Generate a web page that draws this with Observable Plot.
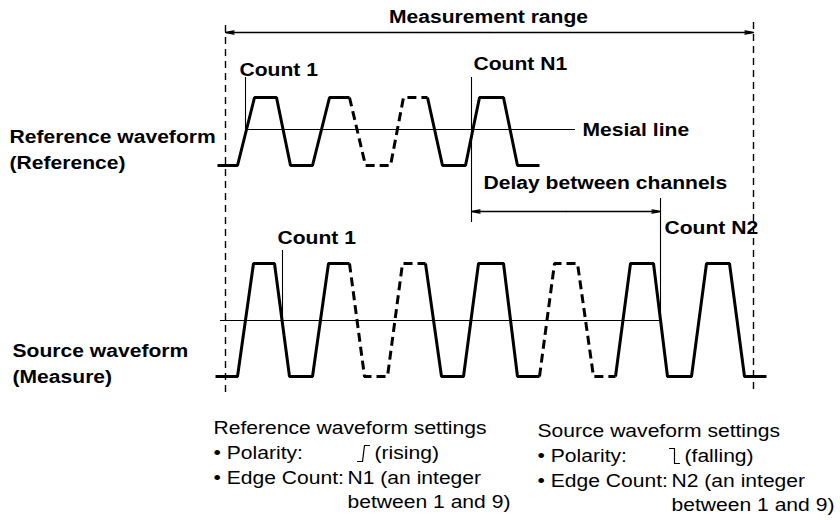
<!DOCTYPE html>
<html><head><meta charset="utf-8">
<script src="https://cdn.jsdelivr.net/npm/d3@7"></script>
<script src="https://cdn.jsdelivr.net/npm/@observablehq/plot@0.6"></script>
<style>html,body{margin:0;padding:0;background:#fff}</style>
</head><body><div id="chart"></div>
<script>
// ---- Diagram values ----
// Reference waveform: edge vertices (time position) and logic level (0 = low, 1 = high)
const refSegments = [
  {style: "solid",  x: [217, 237, 254, 276, 290, 312, 329, 349], level: [0, 0, 1, 1, 0, 0, 1, 1]},
  {style: "dashed", x: [349, 365, 390, 403, 427],                 level: [1, 0, 0, 1, 1]},
  {style: "solid",  x: [427, 442, 465, 479, 503, 517, 539],       level: [1, 0, 0, 1, 1, 0, 0]}
];
// Source waveform
const srcSegments = [
  {style: "solid",  x: [215, 237, 253, 274, 289, 312, 328, 349], level: [0, 0, 1, 1, 0, 0, 1, 1]},
  {style: "dashed", x: [349, 364, 387, 402, 425],                 level: [1, 0, 0, 1, 1]},
  {style: "solid",  x: [425, 441, 463, 478, 503, 517, 539],       level: [1, 0, 0, 1, 1, 0, 0]},
  {style: "dashed", x: [539, 554, 577, 593, 615],                 level: [0, 1, 1, 0, 0]},
  {style: "solid",  x: [615, 630, 653, 667, 691, 706, 729, 744, 766], level: [0, 1, 1, 0, 0, 1, 1, 0, 0]}
];
// Vertical levels of each waveform (low, high)
const refLevels = [165, 97];
const srcLevels = [376, 263];

// Measurement range bounds
const rangeBounds = [{x: 225, top: 25, bottom: 393}, {x: 753, top: 22, bottom: 393}];
const rangeArrowY = 32;

// Mesial lines
const mesialLines = [{y: 129, from: 245, to: 575}, {y: 320, from: 220, to: 660}];

// Edge-count markers
const countMarkers = [
  {label: "Count 1",  x: 245, top: 77,  bottom: 129, lx: 239, ly: 70},
  {label: "Count N1", x: 471, top: 77,  bottom: 222, lx: 473, ly: 64},
  {label: "Count 1",  x: 282, top: 250, bottom: 320, lx: 277, ly: 238},
  {label: "Count N2", x: 660, top: 198, bottom: 320, lx: 664, ly: 228}
];
const delayArrow = {from: 471, to: 660, y: 211};

// Bold labels
const boldLabels = [
  {text: "Mesial line", x: 582, y: 130},
  {text: "Delay between channels", x: 483, y: 183},
  {text: "Reference waveform", x: 9, y: 137},
  {text: "(Reference)", x: 9, y: 163},
  {text: "Source waveform", x: 12, y: 351},
  {text: "(Measure)", x: 12, y: 377}
];
// Settings notes
const notes = [
  {text: "Reference waveform settings", x: 213, y: 428},
  {text: "\u2022 Polarity:", x: 213, y: 453},
  {text: "(rising)", x: 374, y: 453},
  {text: "\u2022 Edge Count:", x: 213, y: 478},
  {text: "N1 (an integer", x: 347, y: 478},
  {text: "between 1 and 9)", x: 347, y: 502},
  {text: "Source waveform settings", x: 537, y: 431},
  {text: "\u2022 Polarity:", x: 537, y: 456},
  {text: "(falling)", x: 684, y: 456},
  {text: "\u2022 Edge Count:", x: 537, y: 481},
  {text: "N2 (an integer", x: 671, y: 481},
  {text: "between 1 and 9)", x: 671, y: 505}
];
// Polarity glyphs
const risingGlyph = {x: [357, 362, 364, 369], y: [461, 461, 445, 445]};
const fallingGlyph = {x: [669, 674, 674, 679], y: [448, 448, 463, 463]};

// ---- Build tables ----
function waveRows(name, segs, levels) {
  const [low, high] = levels;
  return segs.flatMap((s, i) => s.x.map((x, j) => ({
    id: name + i, style: s.style, x, y: low - s.level[j] * (low - high)
  })));
}
const waveRowsAll = [...waveRows("ref", refSegments, refLevels), ...waveRows("src", srcSegments, srcLevels)];
const glyphRows = [
  ...risingGlyph.x.map((x, i) => ({id: "r", x, y: risingGlyph.y[i]})),
  ...fallingGlyph.x.map((x, i) => ({id: "f", x, y: fallingGlyph.y[i]}))
];
const rangeMid = (rangeBounds[0].x + rangeBounds[1].x) / 2;
const rangeArrows = [
  {x1: rangeMid, x2: rangeBounds[0].x, y: rangeArrowY},
  {x1: rangeMid, x2: rangeBounds[1].x, y: rangeArrowY}
];
const delayMid = (delayArrow.from + delayArrow.to) / 2;
const delayArrows = [
  {x1: delayMid, x2: delayArrow.from, y: delayArrow.y},
  {x1: delayMid, x2: delayArrow.to, y: delayArrow.y}
];

const font = "'Liberation Sans', Arial, Helvetica, sans-serif";
const fs = 18.5;

const chart = Plot.plot({
  width: 840,
  height: 520,
  margin: 0,
  x: {domain: [0, 840], range: [0, 840], axis: null},
  y: {domain: [0, 520], range: [0, 520], axis: null},
  style: {background: "#fff", fontFamily: font, color: "#000"},
  marks: [
    Plot.ruleX(rangeBounds, {x: "x", y1: "top", y2: "bottom", stroke: "#000", strokeWidth: 1.4, strokeDasharray: "7,5"}),
    Plot.ruleY(mesialLines, {y: "y", x1: "from", x2: "to", stroke: "#000", strokeWidth: 1.1}),
    Plot.ruleX(countMarkers, {x: "x", y1: "top", y2: "bottom", stroke: "#000", strokeWidth: 1.1}),
    Plot.line(waveRowsAll.filter(d => d.style === "solid"), {x: "x", y: "y", z: "id", stroke: "#000", strokeWidth: 3, strokeLinejoin: "miter", strokeLinecap: "butt"}),
    Plot.line(waveRowsAll.filter(d => d.style === "dashed"), {x: "x", y: "y", z: "id", stroke: "#000", strokeWidth: 3, strokeLinejoin: "miter", strokeLinecap: "butt", strokeDasharray: "9,5"}),
    Plot.arrow(rangeArrows, {x1: "x1", x2: "x2", y1: "y", y2: "y", stroke: "#000", strokeWidth: 1.3, headLength: 10, headAngle: 22}),
    Plot.arrow(delayArrows, {x1: "x1", x2: "x2", y1: "y", y2: "y", stroke: "#000", strokeWidth: 1.3, headLength: 10, headAngle: 22}),
    Plot.line(glyphRows, {x: "x", y: "y", z: "id", stroke: "#000", strokeWidth: 1.2}),
    Plot.text(["Measurement range"], {x: rangeMid - 1, y: 17, text: d => d, textAnchor: "middle", lineAnchor: "middle", fontSize: fs, fontWeight: "bold", fill: "#000"}),
    Plot.text(countMarkers, {x: "lx", y: "ly", text: "label", textAnchor: "start", lineAnchor: "middle", fontSize: fs, fontWeight: "bold", fill: "#000"}),
    Plot.text(boldLabels, {x: "x", y: "y", text: "text", textAnchor: "start", lineAnchor: "middle", fontSize: fs, fontWeight: "bold", fill: "#000"}),
    Plot.text(notes, {x: "x", y: "y", text: "text", textAnchor: "start", lineAnchor: "middle", fontSize: fs, fill: "#000"})
  ]
});
// The reference lettering is horizontally wider than the font: stretch each text about its anchor.
chart.querySelectorAll("text").forEach(t => {
  const tr = t.getAttribute("transform");
  if (tr) t.setAttribute("transform", tr + " scale(1.14,1)");
  else {
    const x = +t.getAttribute("x") || 0, y = +t.getAttribute("y") || 0;
    t.setAttribute("transform", `translate(${x},${y}) scale(1.14,1) translate(${-x},${-y})`);
  }
});
document.getElementById("chart").appendChild(chart);
</script>
</body></html>
